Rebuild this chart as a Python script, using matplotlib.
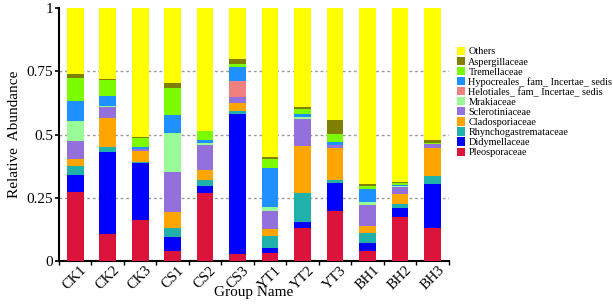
import matplotlib
matplotlib.use('Agg')
import matplotlib.pyplot as plt
import numpy as np

plt.rcParams['font.family'] = 'Liberation Serif'

groups = ['CK1', 'CK2', 'CK3', 'CS1', 'CS2', 'CS3', 'YT1', 'YT2', 'YT3', 'BH1', 'BH2', 'BH3']

# bottom to top of each stack
pleosporaceae = [0.274, 0.105, 0.163, 0.041, 0.267, 0.028, 0.030, 0.132, 0.196, 0.041, 0.174, 0.132]
didymellaceae = [0.066, 0.327, 0.225, 0.055, 0.029, 0.554, 0.020, 0.023, 0.114, 0.031, 0.034, 0.174]
rhynchogastremataceae = [0.037, 0.019, 0.005, 0.036, 0.024, 0.010, 0.050, 0.114, 0.011, 0.040, 0.017, 0.029]
cladosporiaceae = [0.026, 0.113, 0.041, 0.062, 0.040, 0.034, 0.025, 0.187, 0.127, 0.025, 0.040, 0.113]
sclerotiniaceae = [0.070, 0.043, 0.007, 0.156, 0.097, 0.024, 0.074, 0.105, 0.010, 0.084, 0.026, 0.013]
mrakiaceae = [0.082, 0.006, 0.003, 0.157, 0.008, 0.000, 0.013, 0.009, 0.000, 0.011, 0.007, 0.000]
helotiales = [0.000, 0.000, 0.000, 0.000, 0.000, 0.060, 0.000, 0.000, 0.000, 0.000, 0.000, 0.000]
hypocreales = [0.079, 0.040, 0.006, 0.071, 0.013, 0.055, 0.156, 0.012, 0.014, 0.053, 0.004, 0.003]
tremellaceae = [0.089, 0.061, 0.035, 0.104, 0.035, 0.012, 0.034, 0.019, 0.031, 0.011, 0.005, 0.004]
aspergillaceae = [0.015, 0.007, 0.007, 0.022, 0.002, 0.021, 0.009, 0.006, 0.053, 0.010, 0.007, 0.009]
others = [0.262, 0.279, 0.508, 0.296, 0.485, 0.202, 0.589, 0.393, 0.444, 0.694, 0.686, 0.523]

series = [pleosporaceae, didymellaceae, rhynchogastremataceae, cladosporiaceae, sclerotiniaceae,
          mrakiaceae, helotiales, hypocreales, tremellaceae, aspergillaceae, others]
names = ['Pleosporaceae', 'Didymellaceae', 'Rhynchogastremataceae', 'Cladosporiaceae', 'Sclerotiniaceae',
         'Mrakiaceae', 'Helotiales_ fam_ Incertae_ sedis', 'Hypocreales_ fam_ Incertae_ sedis',
         'Tremellaceae', 'Aspergillaceae', 'Others']
colors = ['#DC143C', '#0000FF', '#20B2AA', '#FFA500', '#9370DB',
          '#98FB98', '#F08080', '#1E90FF', '#7CFC00', '#808000', '#FFFF00']

fig = plt.figure(figsize=(6.13, 3.05), dpi=100)
ax = fig.add_axes([0.096, 0.144, 0.636, 0.83])

x = np.arange(len(groups))
bottom = np.zeros(len(groups))
handles = []
for vals, name, c in zip(series, names, colors):
    b = ax.bar(x, vals, width=0.52, bottom=bottom, color=c, label=name, zorder=3)
    handles.append(b)
    bottom += np.array(vals)

ax.set_xlim(-0.5, 11.5)
ax.set_ylim(0, 1)
ax.set_yticks([0, 0.25, 0.5, 0.75, 1])
ax.set_yticklabels(['0', '0.25', '0.5', '0.75', '1'], fontsize=11)
for yv in [0.25, 0.5, 0.75]:
    ax.axhline(yv, color='#999999', linestyle=(0, (2, 2)), linewidth=1, zorder=1)

# ticks at group boundaries, labels at centers
ax.set_xticks(np.arange(-0.5, 12, 1))
ax.set_xticklabels([])
ax.set_xticks(x, minor=True)
ax.set_xticklabels(groups, minor=True, rotation=45, fontsize=10.5, ha='center', va='top')
ax.tick_params(axis='x', which='minor', length=0, pad=2)
ax.tick_params(axis='x', which='major', length=3, width=1)
ax.tick_params(axis='y', length=3, width=1.2, pad=1)

for s in ['top', 'right']:
    ax.spines[s].set_visible(False)
for s in ['left', 'bottom']:
    ax.spines[s].set_linewidth(1.5)

ax.set_ylabel('Relative  Abundance', fontsize=11, labelpad=4)
ax.set_xlabel('Group Name', fontsize=11, labelpad=-5)

fig.legend(handles[::-1], names[::-1], loc='upper left', bbox_to_anchor=(0.738, 0.86),
           frameon=False, fontsize=7.4, handlelength=0.85, handleheight=0.85,
           handletextpad=0.3, labelspacing=0.04, borderaxespad=0)

fig.savefig('out.png', dpi=100)
